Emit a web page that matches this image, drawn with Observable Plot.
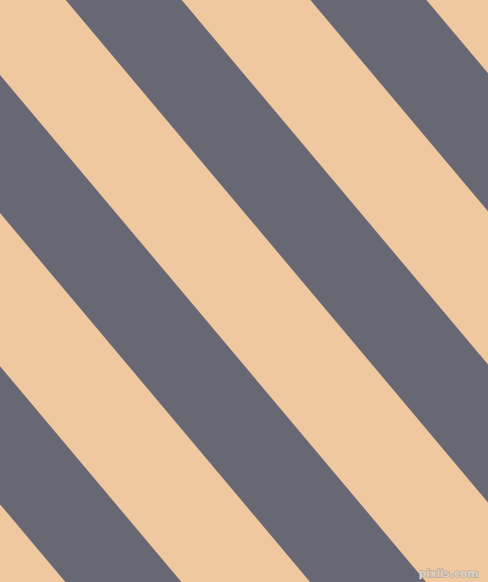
<!DOCTYPE html>
<html>
<head>
<meta charset="utf-8">
<script src="https://cdn.jsdelivr.net/npm/d3@7"></script>
<script src="https://cdn.jsdelivr.net/npm/@observablehq/plot@0.6"></script>
<style>
  html, body { margin: 0; padding: 0; background: #EFC8A0; overflow: hidden; }
  svg { display: block; }
</style>
</head>
<body>
<div id="chart"></div>
<script>
// Stripe geometry (pixels)
const canvasWidth = 488;
const canvasHeight = 582;
const stripeSlope = 1.19;                       // dy/dx of the stripe edges (about 50°)
const grayStart = [-423.7, -179.0, 65.7, 310.4]; // where each gray band's lower-left edge meets y = 0
const grayEnd   = [-307.7, -63.0, 181.7, 426.4]; // where each gray band's upper-right edge meets y = 0
const peachColor = "#EFC8A0";
const grayColor = "#686774";
const watermark = ["pixlis.com"];

// Build the polygon table for the bands (two edge points per band)
const bandRows = [];
grayStart.forEach((c1, i) => {
  const c2 = grayEnd[i];
  for (const x of [0, canvasWidth]) {
    bandRows.push({band: i, x, yLow: stripeSlope * (x - c1), yHigh: stripeSlope * (x - c2)});
  }
});

const chart = Plot.plot({
  width: canvasWidth,
  height: canvasHeight,
  margin: 0,
  x: {domain: [0, canvasWidth], range: [0, canvasWidth], axis: null},
  y: {domain: [0, canvasHeight], range: [0, canvasHeight], axis: null},
  style: {background: peachColor},
  marks: [
    Plot.frame({fill: peachColor, stroke: null}),
    Plot.areaY(bandRows, {x: "x", y1: "yLow", y2: "yHigh", z: "band", fill: grayColor, clip: true}),
    Plot.text(watermark, {
      frameAnchor: "bottom-right",
      dx: -10, dy: -6,
      textAnchor: "end",
      lineAnchor: "bottom",
      fontSize: 10.5,
      fontWeight: "bold",
      fontFamily: "DejaVu Sans",
      fill: "#DDD3C9",
      stroke: "#9E948B",
      strokeWidth: 0.8
    })
  ]
});
document.getElementById("chart").appendChild(chart);
</script>
</body>
</html>
